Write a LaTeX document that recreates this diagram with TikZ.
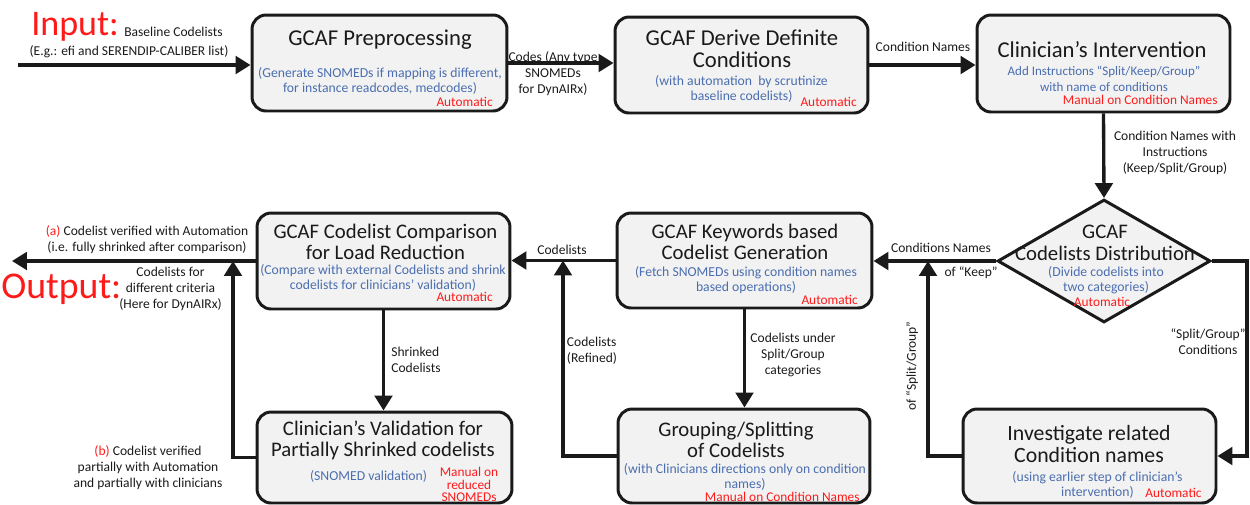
\documentclass[tikz,border=0pt]{standalone}
\usepackage{fontspec}
\setmainfont{Carlito}
\usetikzlibrary{arrows.meta,shapes.geometric}
\definecolor{boxgray}{HTML}{F2F2F2}
\definecolor{descblue}{HTML}{4A6EB0}
\definecolor{autored}{HTML}{FF1A1A}
\definecolor{ink}{HTML}{1A1A1A}
\begin{document}
\begin{tikzpicture}[x=0.02cm,y=-0.02cm,
 procbox/.style={draw=ink,line width=1.7pt,rounded corners=8pt,fill=boxgray,inner sep=0pt},
 ttl/.style={font=\fontsize{12.9}{12.5}\selectfont,align=center,inner sep=0pt,text=ink},
 ttlb/.style={ttl,font=\fontsize{11.8}{12.3}\selectfont},
 desc/.style={font=\fontsize{7.8}{8.8}\selectfont,align=center,inner sep=0pt,text=descblue},
 autotxt/.style={font=\fontsize{7.6}{7.1}\selectfont,align=center,inner sep=0pt,text=autored},
 lbl/.style={font=\fontsize{7.7}{9.1}\selectfont,align=center,inner sep=0pt,text=ink},
 big/.style={font=\fontsize{20.5}{22}\selectfont,inner sep=0pt,text=autored},
 arr/.style={draw=ink,line width=1.9pt,-{Triangle[length=8.5pt,width=10pt]}},
]
\useasboundingbox (0,0) rectangle (1250,504);

% boxes
\node[procbox,minimum width=5.1cm,minimum height=1.92cm] (b1) at (379.5,63) {};
\node[procbox,minimum width=5.06cm,minimum height=1.92cm] (b2) at (741.5,65) {};
\node[procbox,minimum width=5.06cm,minimum height=1.94cm] (b3) at (1103.5,63.5) {};
\node[diamond,draw=ink,line width=1.7pt,fill=boxgray,inner sep=0pt,minimum width=4.26cm,minimum height=2.46cm] (dia) at (1104,261) {};
\node[procbox,minimum width=5.1cm,minimum height=1.9cm] (b5) at (744.5,260.5) {};
\node[procbox,minimum width=5.06cm,minimum height=1.92cm] (b6) at (383.5,261) {};
\node[procbox,minimum width=5.1cm,minimum height=1.82cm] (b7) at (384.5,457.5) {};
\node[procbox,minimum width=5.04cm,minimum height=1.88cm] (b8) at (744,456) {};
\node[procbox,minimum width=5.06cm,minimum height=1.88cm] (b9) at (1089.5,456) {};

% helper coordinates
\coordinate (in) at (18,65);
\coordinate (out) at (12,261);
\coordinate (c1) at (1247,0);
\coordinate (c2) at (928,0);
\coordinate (c3) at (563,0);
\coordinate (c4) at (233,0);

% connectors
\draw[arr] (in) -- (in -| b1.west);
\draw[arr] (b1.east) -- (b1.east -| b2.west);
\draw[arr] (b2.east) -- (b2.east -| b3.west);
\draw[arr] (b3.south) -- (dia.north);
\draw[arr] (dia.west) -- (dia.west -| b5.east);
\draw[arr] (dia.east) -- (dia.east -| c1) -- (c1 |- b9.east) -- (b9.east);
\draw[arr] (b9.west) -| (c2 |- dia.west);
\draw[arr] (b5.west) -- (b5.west -| b6.east);
\draw[arr] (b5.south) -- (b5.south |- b8.north);
\draw[arr] (b8.west) -| (c3 |- b5.west);
\draw[arr] (b6.south) -- (b6.south |- b7.north);
\draw[arr] (b7.west) -| (c4 |- b6.west);
\draw[arr] (b6.west) -- (b6.west -| out);

% box texts
\node[ttl] (t1) at (380,40) {GCAF Preprocessing};
\node[desc] (d1) at (380,81) {(Generate SNOMEDs if mapping is different,\\for instance readcodes, medcodes)};
\node[autotxt,anchor=east] (a1) at (493,102) {Automatic};

\node[ttl] (t2) at (742,49) {GCAF Derive Definite\\Conditions};
\node[desc] (d2) at (741.5,89) {(with automation\ \ by scrutinize\\baseline codelists)};
\node[autotxt,anchor=east] (a2) at (857,102) {Automatic};

\node[ttl] (t3) at (1102,50) {Clinician’s Intervention};
\node[desc,font=\fontsize{7.4}{9.1}\selectfont] (d3) at (1104,79) {Add Instructions “Split/Keep/Group”\\with name of conditions};
\node[autotxt,anchor=east] (a3) at (1218,100) {Manual on Condition Names};

\node[ttlb] (t4) at (1105,243) {GCAF\\Codelists Distribution};
\node[desc] (d4) at (1106,280) {(Divide codelists into\\two categories)};
\node[autotxt] (a4) at (1102,302) {Automatic};

\node[ttlb] (t5) at (745,242) {GCAF Keywords based\\Codelist Generation};
\node[desc] (d5) at (746,280) {(Fetch SNOMEDs using condition names\\based operations)};
\node[autotxt,anchor=east] (a5) at (858,300) {Automatic};

\node[ttlb] (t6) at (385.5,242) {GCAF Codelist Comparison\\for Load Reduction};
\node[desc] (d6) at (383,278) {(Compare with external Codelists and shrink\\codelists for clinicians' validation)};
\node[autotxt,anchor=east] (a6) at (493,297) {Automatic};

\node[ttlb] (t7) at (383,440.5) {Clinician’s Validation for\\Partially Shrinked codelists};
\node[desc] (d7) at (368.5,476) {(SNOMED validation)};
\node[autotxt] (a7) at (469,484.5) {Manual on\\reduced\\SNOMEDs};

\node[ttlb] (t8) at (736,440) {Grouping/Splitting\\of Codelists};
\node[desc] (d8) at (745,477) {(with Clinicians directions only on condition\\names)};
\node[autotxt,anchor=east] (a8) at (860,497) {Manual on Condition Names};

\node[ttl,font=\fontsize{12.4}{12.5}\selectfont] (t9) at (1089,444) {Investigate related\\Condition names};
\node[desc] (d9) at (1097.5,485) {(using earlier step of clinician’s\\intervention)};
\node[autotxt] (a9) at (1173.5,493) {Automatic};

% input / output
\node[big,anchor=base west] (inp) at (31,35) {Input:};
\node[lbl,anchor=base west] (inl) at (124,36) {Baseline Codelists};
\node[lbl] (inl2) at (129,52) {(E.g.: efi and SERENDIP-CALIBER list)};
\node[big,anchor=base west,font=\fontsize{21.5}{22}\selectfont] (outp) at (1,298) {Output:};

% connector labels
\node[lbl] (l12) at (553,74) {Codes (Any type\\SNOMEDs\\for DynAIRx)};
\node[lbl] (l23) at (923,47) {Condition Names};
\node[lbl] (l3d) at (1175,153) {Condition Names with\\Instructions\\(Keep/Split/Group)};
\node[lbl] (ld5a) at (941,248) {Conditions Names};
\node[lbl] (ld5b) at (971,273) {of “Keep”};
\node[lbl] (ld9) at (1208,342) {“Split/Group”\\Conditions};
\node[lbl,rotate=90] (l9d) at (912,366) {of “Split/Group”};
\node[lbl] (l56) at (562,250) {Codelists};
\node[lbl] (l58) at (793,354.5) {Codelists under\\Split/Group\\categories};
\node[lbl,align=left] (l85) at (592,350.5) {Codelists\\(Refined)};
\node[lbl,align=left] (l67) at (416,360) {Shrinked\\Codelists};
\node[lbl] (lout) at (147,240) {\textcolor{autored}{(a)} Codelist verified with Automation\\(i.e. fully shrinked after comparison)};
\node[lbl] (lout2) at (170.5,289) {Codelists for\\different criteria\\(Here for DynAIRx)};
\node[lbl] (l7) at (148,468) {\textcolor{autored}{(b)} Codelist verified\\partially with Automation\\and partially with clinicians};
\end{tikzpicture}
\end{document}
